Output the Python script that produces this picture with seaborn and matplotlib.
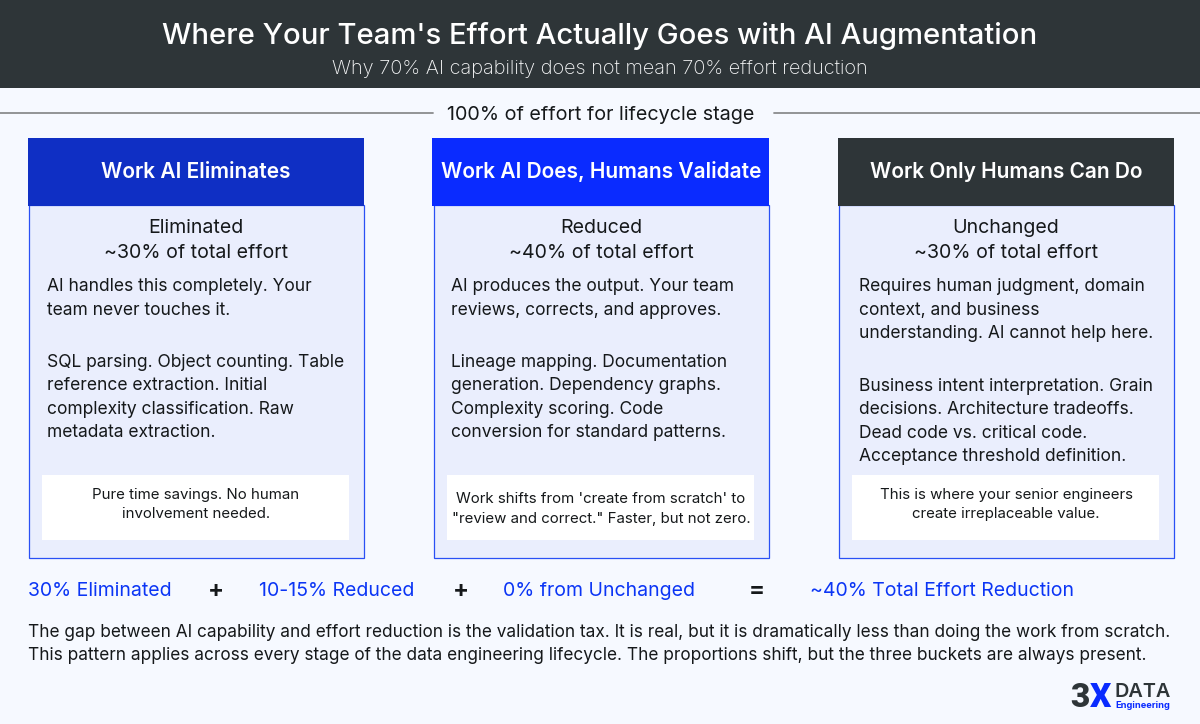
import matplotlib
matplotlib.use("Agg")
import matplotlib.pyplot as plt
from matplotlib.patches import Rectangle
import seaborn as sns

sns.set_theme(style="white")
plt.rcParams['font.family'] = ['Inter', 'DejaVu Sans']

TITLE = "Where Your Team's Effort Actually Goes with AI Augmentation"
SUBTITLE = "Why 70% AI capability does not mean 70% effort reduction"
SPAN = "100% of effort for lifecycle stage"
HEADERS = ["Work AI Eliminates", "Work AI Does, Humans Validate", "Work Only Humans Can Do"]
STATES = ["Eliminated", "Reduced", "Unchanged"]
SHARES = [30, 40, 30]
INTRO = [["AI handles this completely. Your", "team never touches it."],
         ["AI produces the output. Your team", "reviews, corrects, and approves."],
         ["Requires human judgment, domain", "context, and business", "understanding. AI cannot help here."]]
DETAIL = [["SQL parsing. Object counting. Table", "reference extraction. Initial", "complexity classification. Raw", "metadata extraction."],
          ["Lineage mapping. Documentation", "generation. Dependency graphs.", "Complexity scoring. Code", "conversion for standard patterns."],
          ["Business intent interpretation. Grain", "decisions. Architecture tradeoffs.", "Dead code vs. critical code.", "Acceptance threshold definition."]]
NOTE = [["Pure time savings. No human", "involvement needed."],
        ["Work shifts from 'create from scratch' to", "\"review and correct.\" Faster, but not zero."],
        ["This is where your senior engineers", "create irreplaceable value."]]
EQUATION = ["30% Eliminated", "+", "10-15% Reduced", "+", "0% from Unchanged", "=", "~40% Total Effort Reduction"]
FOOT = ["The gap between AI capability and effort reduction is the validation tax. It is real, but it is dramatically less than doing the work from scratch.",
        "This pattern applies across every stage of the data engineering lifecycle. The proportions shift, but the three buckets are always present."]

BG = "#F6F9FF"; DARK = "#2E3538"; BLUE = "#0F2FC4"; BRIGHT = "#0A2BFF"; BODY = "#EAEEFD"
EDGE = "#2A50F5"; INK = "#15181A"; EQ_BLUE = "#0B35F5"
HEAD_COL = [BLUE, BRIGHT, DARK]

fig = plt.figure(figsize=(12, 7.24), dpi=100, facecolor=BG)
ax = fig.add_axes([0, 0, 1, 1])
ax.set_xlim(0, 1200); ax.set_ylim(724, 0); ax.axis("off")

def box(x0, y0, x1, y1, fc, ec="none", lw=0):
    ax.add_patch(Rectangle((x0, y0), x1 - x0, y1 - y0, facecolor=fc, edgecolor=ec, linewidth=lw))

def t(x, y, s, size, color=INK, ha="center", weight="normal", **kw):
    # y is the visual middle of the capitals; anchor on the baseline so descenders do not shift lines
    return ax.text(x, y + 0.364 * size * 100 / 72, s, fontsize=size, color=color, ha=ha,
                   va="baseline", fontweight=weight, **kw)

# header band
box(0, 0, 1200, 88, DARK)
t(600, 33, TITLE, 21.1, "white", weight="medium")
t(600, 66.5, SUBTITLE, 14.4, "#F7F8F9", weight="light")

# span rule
ax.plot([0, 433], [113, 113], color="#8A8C8E", lw=1.3)
ax.plot([774, 1200], [113, 113], color="#8A8C8E", lw=1.3)
t(601, 113, SPAN, 14.2)

# cards
LEFT = [28, 433, 838]
TEXT_X = [47, 451, 859]
W = 336
for i, x in enumerate(LEFT):
    c = x + W / 2
    box(x + .5, 205, x + W - .5, 558, BODY, EDGE, 0.9)
    box(x - (1 if i == 1 else 0), 138, x + W, 205.5, HEAD_COL[i])
    t(c, 170.5, HEADERS[i], 15.05, "white", weight="semibold")
    t(c, 226, STATES[i], 14.1)
    t(c, 251, f"~{SHARES[i]}% of total effort", 14.1)
    tx = TEXT_X[i]
    y = 284.5
    for line in INTRO[i]:
        t(tx, y, line, 12.55, ha="left"); y += 23.7
    y = 360.5 if i != 2 else 384.5
    for line in DETAIL[i]:
        t(tx, y, line, 12.55, ha="left"); y += 23.5
    box(x + 14, 475, x + W - 15, 540, "white")
    ys = [494, 513] if i != 1 else [498, 517.5]
    for line, yy in zip(NOTE[i], ys):
        t(c, yy, line, 10.8)

# equation
XS = [100, 216, 337, 461, 599, 757, 942]
for s, x in zip(EQUATION, XS):
    op = s in "+="
    t(x, 588.5, s, 17 if op else 14.0, INK if op else EQ_BLUE, weight="bold" if op else "normal")

for line, y in zip(FOOT, [630.5, 653.5]):
    t(28, y, line, 12.4, ha="left")

# logo
three = t(1070, 695, "3", 24, DARK, ha="left", weight="black", family="Roboto")
fig.canvas.draw()
bb = three.get_window_extent()
t(bb.x1 + 0.3, 695, "X", 24, BRIGHT, ha="left", weight="black", family="Roboto")
t(1115, 690, "DATA", 14.3, DARK, ha="left", weight="semibold")
t(1115, 705, "Engineering", 6.7, BRIGHT, ha="left", weight="bold")

fig.savefig("out.png", dpi=100, facecolor=BG)
